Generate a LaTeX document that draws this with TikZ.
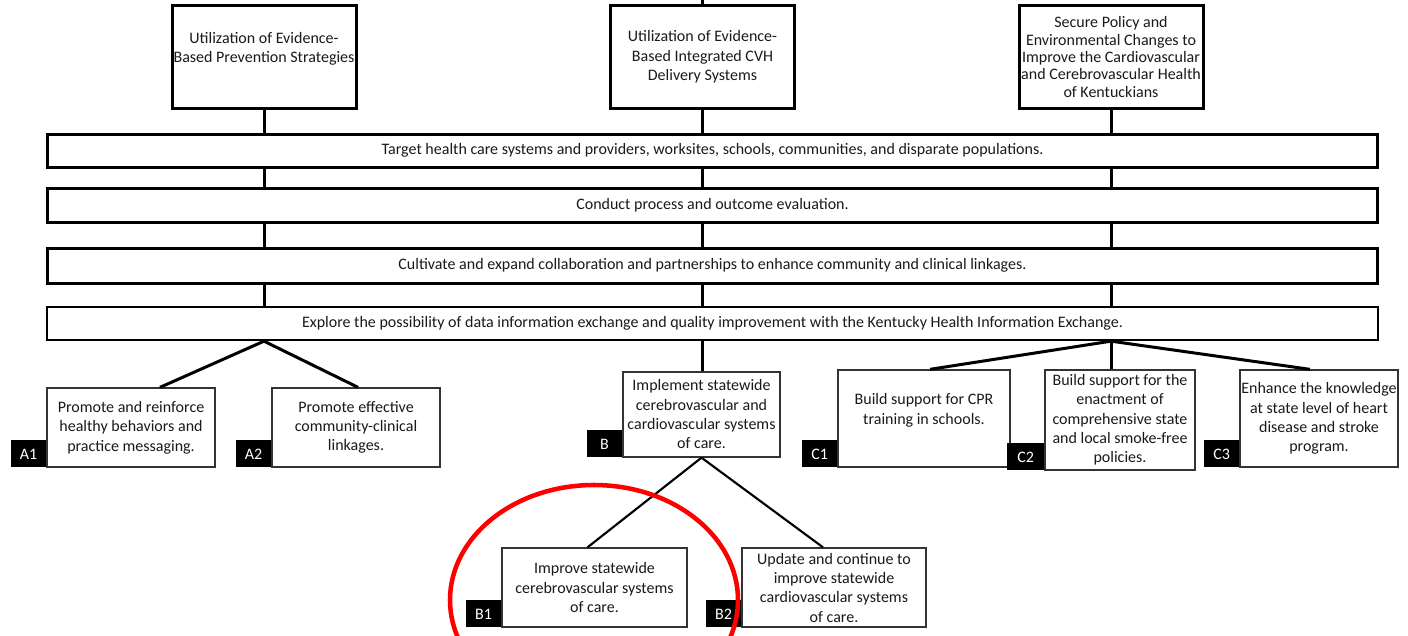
\documentclass[tikz,border=0pt]{standalone}
\usepackage{fontspec}
\setmainfont{Carlito}
\usepackage{tikz}
\usetikzlibrary{positioning,calc,shapes.geometric}
\definecolor{ink}   {HTML}{000000}
\definecolor{txt}   {HTML}{1A1A1A}
\definecolor{frame} {HTML}{333333}
\definecolor{circ}  {HTML}{FF0000}
\tikzset{
  every node/.style={font=\fontsize{12}{14.5}\selectfont, text=txt},
  % --- nodes
  goal/.style = {draw=ink, fill=white, line width=2.25pt, align=center, inner sep=0pt,
                 minimum width=138pt, minimum height=76.5pt},
  bar/.style  = {draw=ink, fill=white, line width=2.25pt, inner sep=0pt,
                 minimum width=998pt},
  act/.style  = {draw=frame, fill=white, line width=1pt, align=center, inner sep=0pt},
  tag/.style  = {fill=black, text=white, inner sep=0pt, anchor=south east,
                 minimum width=26.25pt, minimum height=20.25pt},
  ring/.style = {ellipse, draw=circ, line width=3.4pt, inner sep=0pt},
  % --- edges
  e/.style     = {draw=ink, line width=2.25pt},
  ethin/.style = {draw=ink, line width=1.6pt},
}

\begin{document}
\begin{tikzpicture}[x=0.75pt,y=-0.75pt]
  \useasboundingbox (0,0) rectangle (1408,635);
  \clip (0,0) rectangle (1408,635);

  % goals
  \coordinate (top) at (702.5,0);
  \node[goal] (t1) at (264,57) {Utilization of Evidence-\\Based Prevention Strategies\\\mbox{}};
  \node[goal] (t2) at (702.5,57) {Utilization of Evidence-\\Based Integrated CVH\\Delivery Systems};
  \node[goal, font=\fontsize{12}{13}\selectfont] (t3) at (1111,57)
    {Secure Policy and\\Environmental Changes to\\Improve the Cardiovascular\\and Cerebrovascular Health\\of Kentuckians};

  % strategies
  \node[bar, minimum height=24.75pt] (bar1) at (712.5,150.5)
    {Target health care systems and providers, worksites, schools, communities, and disparate populations.};
  \node[bar, minimum height=25.5pt] (bar2) at (712.5,205)
    {Conduct process and outcome evaluation.};
  \node[bar, minimum height=26.25pt] (bar3) at (712.5,265.5)
    {Cultivate and expand collaboration and partnerships to enhance community and clinical linkages.};
  \node[bar, minimum height=24.75pt, line width=1.75pt] (bar4) at (712.5,323.5)
    {Explore the possibility of data information exchange and quality improvement with the Kentucky Health Information Exchange.};

  % activities
  \node[act, minimum width=126pt, minimum height=59.25pt] (a1) at (131,427.5)
    {Promote and reinforce\\healthy behaviors and\\practice messaging.};
  \node[act, minimum width=126pt, minimum height=59.25pt] (a2) at (356,427.5)
    {Promote effective\\community-clinical\\linkages.};
  \node[act, minimum width=117.75pt, minimum height=63.75pt] (b) at (701.5,414.5)
    {Implement statewide\\cerebrovascular and\\cardiovascular systems\\of care.};
  \node[act, minimum width=129pt, minimum height=72.75pt] (c1) at (924,418.5)
    {Build support for CPR\\training in schools.\\\mbox{}};
  \node[act, minimum width=112.5pt, minimum height=75pt] (c2) at (1120,420)
    {Build support for the\\enactment of\\comprehensive state\\and local smoke-free\\policies.};
  \node[act, minimum width=118.5pt, minimum height=72.75pt] (c3) at (1319,418.5)
    {Enhance the knowledge\\at state level of heart\\disease and stroke\\program.};
  \node[act, minimum width=138.75pt, minimum height=59.25pt] (b1) at (594.5,587.5)
    {Improve statewide\\cerebrovascular systems\\of care.};
  \node[act, minimum width=138pt, minimum height=59.25pt] (b2) at (834,587.5)
    {Update and continue to\\improve statewide\\cardiovascular systems\\of care.};

  \foreach \n/\s in {a1/A1,a2/A2,b/B,c1/C1,c3/C3,b1/B1,b2/B2}
    \node[tag] (\n tag) at (\n.south west) {\s};
  \node[tag, minimum width=27.75pt] (c2tag) at (c2.south west) {C2};

  % links
  \draw[e] (t2.north) -- (top);
  \foreach \t in {1,2,3} {
    \draw[e] (t\t.south) -- (t\t.south |- bar1.north);
    \foreach \u/\v in {1/2,2/3,3/4}
      \draw[e] (t\t.south |- bar\u.south) -- (t\t.south |- bar\v.north);
  }
  \draw[e] (bar4.south -| t1.south) -- ($(a1.north)+(29,0)$);
  \draw[e] (bar4.south -| t1.south) -- ($(a2.north)+(2,0)$);
  \draw[e] (bar4.south -| t2.south) -- (b.north -| t2.south);
  \draw[e] (bar4.south -| t3.south) -- ($(c1.north)+(6,0)$);
  \draw[e] (bar4.south -| t3.south) -- (c2.north -| t3.south);
  \draw[e] (bar4.south -| t3.south) -- ($(c3.north)+(-9,0)$);
  \draw[ethin] (b.south) -- ($(b1.north)+(-7,0)$);
  \draw[ethin] (b.south) -- ($(b2.north)+(-11,0)$);

  % highlight
  \node[ring, minimum width=216pt, minimum height=172.5pt] (hl) at (594,600) {};
\end{tikzpicture}
\end{document}
